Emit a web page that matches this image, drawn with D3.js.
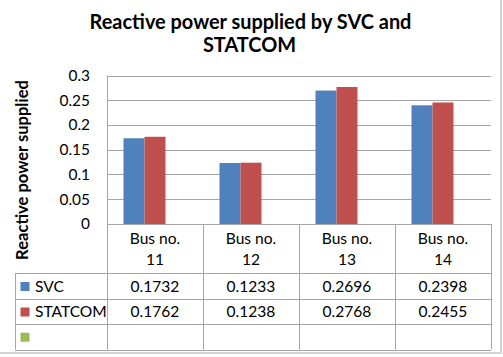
<!DOCTYPE html>
<html>
<head>
<meta charset="utf-8">
<script src="https://cdn.jsdelivr.net/npm/d3@7"></script>
<style>
  body { margin: 0; background: #fff; }
  svg text { font-family: Lato, "Open Sans", sans-serif; fill: #000; }
</style>
</head>
<body>
<div class="canvas"></div>
<script>
// data
const categories = ['11', '12', '13', '14'];
const seriesNames = ['SVC', 'STATCOM', ''];
const svcValues = [0.1732, 0.1233, 0.2696, 0.2398];
const statcomValues = [0.1762, 0.1238, 0.2768, 0.2455];
const emptyValues = [null, null, null, null];
const yTicks = [0, 0.05, 0.1, 0.15, 0.2, 0.25, 0.3];

const series = [
    { name: seriesNames[0], values: svcValues, fill: '#4f81bd' },
    { name: seriesNames[1], values: statcomValues, fill: '#c0504d' },
    { name: seriesNames[2], values: emptyValues, fill: '#9bbb59' }
];

// canvas
const
    width = 503,
    height = 357,
    plotL = 107,
    plotR = 491,
    plotT = 75.5,
    plotB = 224,
    tableL = 15,
    rowH = [49, 26, 25, 25.5]; // header, svc, statcom, empty

const svg = d3.select('.canvas')
    .append('svg')
    .attr('width', width)
    .attr('height', height);

// font size that makes a string a given width (reference uses Calibri)
const fitSize = (str, weight, target) => {
    const t = svg.append('text')
        .attr('font-size', 100)
        .attr('font-weight', weight)
        .text(str);
    const w = t.node().getComputedTextLength();
    t.remove();
    return 100 * target / w;
};

const
    titleSize = fitSize('Reactive power supplied by SVC and', 'bold', 322),
    yTitleSize = fitSize('Reactive power supplied', 'bold', 180),
    tickSize = fitSize('0.25', 'normal', 30.5),
    cellSize = (fitSize('0.1732', 'normal', 50) + fitSize('STATCOM', 'normal', 68) + fitSize('Bus no.', 'normal', 52)) / 3;

// outer chart border (only right / bottom visible)
svg.append('rect')
    .attr('x', -4).attr('y', -4)
    .attr('width', 505).attr('height', 357)
    .attr('fill', 'none')
    .attr('stroke', '#d4d4d4')
    .attr('stroke-width', 2);

// title
svg.append('text')
    .attr('x', 250.5).attr('y', 28.5)
    .attr('text-anchor', 'middle')
    .attr('font-size', titleSize).attr('font-weight', 'bold')
    .text('Reactive power supplied by SVC and');
svg.append('text')
    .attr('x', 249.5).attr('y', 52)
    .attr('text-anchor', 'middle')
    .attr('font-size', titleSize).attr('font-weight', 'bold')
    .text('STATCOM');

// scales
const xScale = d3.scaleBand()
    .domain(categories)
    .range([plotL, plotR]);

const xSub = d3.scaleBand()
    .domain(seriesNames.map((d, i) => i))
    .range([0, xScale.bandwidth()])
    .paddingOuter(0.786);

const yScale = d3.scaleLinear()
    .domain([0, 0.3])
    .range([plotB, plotT]);

// gridlines
svg.append('g')
    .selectAll('line')
    .data(yTicks)
    .enter()
    .append('line')
    .attr('x1', plotL).attr('x2', plotR)
    .attr('y1', d => Math.round(yScale(d)) + 0.5)
    .attr('y2', d => Math.round(yScale(d)) + 0.5)
    .attr('stroke', '#a6a6a6');

// y axis
const yAxis = d3.axisLeft(yScale)
    .tickValues(yTicks)
    .tickSize(0)
    .tickPadding(17)
    .tickFormat(d => d3.format('')(+d.toFixed(2)));
svg.append('g')
    .attr('transform', `translate(${plotL}, 0)`)
    .call(yAxis)
    .call(g => g.select('.domain').remove())
    .call(g => g.selectAll('text')
        .attr('font-size', tickSize)
        .attr('font-family', 'Lato, sans-serif')
        .attr('fill', '#000'));

svg.append('line')
    .attr('x1', plotL + 0.5).attr('x2', plotL + 0.5)
    .attr('y1', plotT).attr('y2', plotB)
    .attr('stroke', '#a6a6a6');

// y title
svg.append('text')
    .attr('transform', `translate(28, 170) rotate(-90)`)
    .attr('text-anchor', 'middle')
    .attr('font-size', yTitleSize).attr('font-weight', 'bold')
    .text('Reactive power supplied');

// bars
series.forEach((s, si) => {
    svg.append('g')
        .selectAll('rect')
        .data(s.values.map((v, i) => ({ cat: categories[i], v })).filter(d => d.v != null))
        .enter()
        .append('rect')
        .attr('x', d => xScale(d.cat) + xSub(si))
        .attr('width', xSub.bandwidth())
        .attr('y', d => yScale(d.v))
        .attr('height', d => plotB - yScale(d.v))
        .attr('fill', s.fill);
});

// data table
const rowY = [plotB];
rowH.forEach(h => rowY.push(rowY[rowY.length - 1] + h));
const tableB = rowY[rowY.length - 1];
const lineColor = '#a6a6a6';
const table = svg.append('g');

// horizontal lines
table.append('line')
    .attr('x1', plotL).attr('x2', plotR)
    .attr('y1', Math.round(plotB) + 0.5).attr('y2', Math.round(plotB) + 0.5)
    .attr('stroke', lineColor);
rowY.slice(1).forEach(y => {
    table.append('line')
        .attr('x1', tableL).attr('x2', plotR)
        .attr('y1', Math.round(y) + 0.5).attr('y2', Math.round(y) + 0.5)
        .attr('stroke', lineColor);
});

// vertical lines
const colEdges = categories.map(c => xScale(c)).concat([plotR]);
colEdges.forEach(x => {
    table.append('line')
        .attr('x1', Math.round(x) + 0.5).attr('x2', Math.round(x) + 0.5)
        .attr('y1', plotB).attr('y2', tableB)
        .attr('stroke', lineColor);
});
table.append('line')
    .attr('x1', tableL + 0.5).attr('x2', tableL + 0.5)
    .attr('y1', rowY[1]).attr('y2', tableB)
    .attr('stroke', lineColor);

// header text
categories.forEach(c => {
    const cx = xScale(c) + xScale.bandwidth() / 2;
    table.append('text')
        .attr('x', cx).attr('y', 244)
        .attr('text-anchor', 'middle')
        .attr('font-size', cellSize)
        .text('Bus no.');
    table.append('text')
        .attr('x', cx).attr('y', 264.5)
        .attr('text-anchor', 'middle')
        .attr('font-size', cellSize)
        .text(c);
});

// series rows
series.forEach((s, si) => {
    const y0 = rowY[si + 1], y1 = rowY[si + 2];
    const cy = (y0 + y1) / 2;
    table.append('rect')
        .attr('x', 20.5).attr('y', cy - 4)
        .attr('width', 9).attr('height', 9)
        .attr('fill', s.fill);
    if (s.name) {
        table.append('text')
            .attr('x', 35).attr('y', cy + 5.5)
            .attr('font-size', cellSize)
            .text(s.name);
    }
    s.values.forEach((v, i) => {
        if (v == null) return;
        table.append('text')
            .attr('x', xScale(categories[i]) + xScale.bandwidth() / 2)
            .attr('y', cy + 5.5)
            .attr('text-anchor', 'middle')
            .attr('font-size', cellSize)
            .text(d3.format('.4f')(v));
    });
});
</script>
</body>
</html>
